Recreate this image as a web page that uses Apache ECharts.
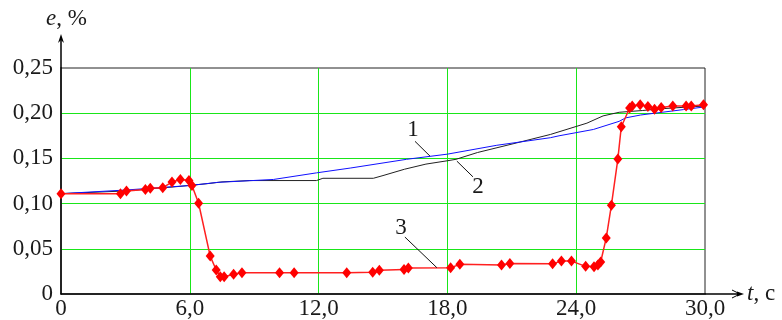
<!DOCTYPE html>
<html>
<head>
<meta charset="utf-8">
<script src="https://cdn.jsdelivr.net/npm/echarts@6/dist/echarts.min.js"></script>
<style>
  html, body { margin: 0; padding: 0; background: #fff; }
  #chart { width: 782px; height: 320px; }
</style>
</head>
<body>
<div id="chart"></div>
<script>
// Curve 1 (blue)
const tBlue = [0, 3, 6, 7.3, 9.9, 11.9, 13.5, 16.1, 18, 20.3, 22.8, 23.2, 24.8, 26.0, 26.3, 27, 28, 29, 30];
const eBlue = [0.111, 0.115, 0.120, 0.1235, 0.1267, 0.134, 0.1394, 0.149, 0.1547, 0.1645, 0.1729, 0.175, 0.182, 0.191, 0.1948, 0.198, 0.201, 0.204, 0.207];

// Curve 2 (black)
const tBlack = [0, 3, 5.5, 6.8, 7.5, 8.8, 11.9, 12.2, 14.55, 15.0, 16.0, 17.0, 18.0, 18.4, 19.4, 21.2, 22.8, 24.5, 25.25, 26.0, 27.1, 28, 30];
const eBlack = [0.111, 0.114, 0.119, 0.122, 0.124, 0.1255, 0.1255, 0.128, 0.128, 0.131, 0.138, 0.1437, 0.1474, 0.149, 0.1565, 0.167, 0.1765, 0.189, 0.197, 0.201, 0.203, 0.205, 0.208];

// Curve 3 (red, measured points)
const tRed = [0, 2.77, 3.05, 3.93, 4.16, 4.74, 5.17, 5.56, 5.96, 6.1, 6.41, 6.95, 7.23, 7.42, 7.6, 8.04, 8.43, 10.18, 10.86, 13.31, 14.52, 14.83, 15.98, 16.18, 18.15, 18.58, 20.52, 20.91, 22.9, 23.31, 23.78, 24.44, 24.83, 25.01, 25.14, 25.4, 25.64, 25.94, 26.1, 26.49, 26.61, 26.98, 27.34, 27.65, 27.96, 28.5, 29.12, 29.36, 29.93];
const eRed = [0.111, 0.111, 0.114, 0.1157, 0.117, 0.1176, 0.1238, 0.1267, 0.1256, 0.120, 0.1004, 0.0419, 0.0266, 0.019, 0.019, 0.0218, 0.0234, 0.0234, 0.0234, 0.0234, 0.024, 0.0262, 0.027, 0.0288, 0.0291, 0.0328, 0.032, 0.0338, 0.0335, 0.0364, 0.0364, 0.0306, 0.0302, 0.032, 0.0354, 0.062, 0.0983, 0.1492, 0.185, 0.2057, 0.208, 0.2093, 0.2074, 0.2045, 0.2063, 0.208, 0.208, 0.208, 0.2093];

// Axis ranges and tick steps
const xMin = 0, xMax = 30, xStep = 6;
const yMin = 0, yMax = 0.25, yStep = 0.05;

// Curve labels with leader lines (data units)
const curveNames = ['1', '2', '3'];
const namePoints = [[16.4, 0.182], [19.42, 0.1187], [15.84, 0.073]];
const leaderFrom = [[16.49, 0.1689], [18.44, 0.147], [16.02, 0.063]];
const leaderTo = [[17.19, 0.1525], [19.19, 0.1296], [17.51, 0.0291]];

const zip = (a, b) => a.map((v, i) => [v, b[i]]);
const FONT = "'Liberation Serif', 'DejaVu Serif', serif";
const FS = 23;
const TXT = '#1a1a1a';
const GREEN = '#19e619';

const chart = echarts.init(document.getElementById('chart'), null, { renderer: 'canvas' });

const option = {
  animation: false,
  backgroundColor: '#fff',
  textStyle: { fontFamily: FONT, fontSize: FS },
  grid: { left: 61, right: 77, top: 68, bottom: 23, show: true, borderColor: '#222', borderWidth: 1, backgroundColor: 'transparent' },
  xAxis: {
    type: 'value', min: xMin, max: xMax, interval: xStep,
    axisLine: { show: true, onZero: false, lineStyle: { color: '#000', width: 1.5 } },
    axisTick: { show: false },
    splitLine: { show: true, showMinLine: false, showMaxLine: false, lineStyle: { color: GREEN, width: 1 } },
    axisLabel: {
      margin: 3, fontFamily: FONT, fontSize: FS, color: TXT,
      formatter: v => v === 0 ? '0' : v.toFixed(1).replace('.', ',')
    }
  },
  yAxis: {
    type: 'value', min: yMin, max: yMax, interval: yStep,
    axisLine: { show: true, onZero: false, lineStyle: { color: '#000', width: 1.5 } },
    axisTick: { show: false },
    splitLine: { show: true, showMinLine: false, showMaxLine: false, lineStyle: { color: GREEN, width: 1 } },
    axisLabel: {
      margin: 8, fontFamily: FONT, fontSize: FS, color: TXT, padding: [3, 0, 0, 0],
      formatter: v => Math.abs(v) < 1e-9 ? '0' : v.toFixed(2).replace('.', ',')
    }
  },
  series: [
    {
      name: '2', type: 'line', data: zip(tBlack, eBlack), showSymbol: false,
      lineStyle: { color: '#222', width: 1 }, z: 3
    },
    {
      name: '1', type: 'line', data: zip(tBlue, eBlue), showSymbol: false,
      lineStyle: { color: '#1010ff', width: 1 }, z: 4
    },
    {
      name: '3', type: 'line', data: zip(tRed, eRed), symbol: 'diamond', symbolSize: [9, 11],
      itemStyle: { color: '#ff0000' }, lineStyle: { color: '#ff2020', width: 1.5 }, z: 5
    }
  ]
};
chart.setOption(option);

// Axis arrows, axis names and curve annotations placed from the axis scales
const px = p => chart.convertToPixel({ gridIndex: 0 }, p);
const origin = px([xMin, yMin]);
const corner = px([xMax, yMax]);
const yTip = 34, xTip = 744;

const italicRich = {
  i: { fontFamily: FONT, fontSize: FS, fontStyle: 'italic', fill: TXT },
  n: { fontFamily: FONT, fontSize: FS, fill: TXT }
};

const graphics = [
  { type: 'line', shape: { x1: origin[0], y1: corner[1], x2: origin[0], y2: yTip + 4 }, style: { stroke: '#000', lineWidth: 1.5 } },
  { type: 'polygon', shape: { points: [[origin[0], yTip], [origin[0] - 3, yTip + 9], [origin[0], yTip + 6], [origin[0] + 3, yTip + 9]] }, style: { fill: '#000' } },
  { type: 'line', shape: { x1: corner[0], y1: origin[1], x2: xTip - 4, y2: origin[1] }, style: { stroke: '#000', lineWidth: 1.5 } },
  { type: 'polyline', shape: { points: [[xTip - 12, origin[1] - 4], [xTip - 4, origin[1]], [xTip - 12, origin[1] + 4]] }, style: { stroke: '#000', lineWidth: 1, fill: null } },
  { type: 'polygon', shape: { points: [[xTip, origin[1]], [xTip - 7, origin[1] - 2.5], [xTip - 7, origin[1] + 2.5]] }, style: { fill: '#000' } },
  { type: 'text', x: origin[0] - 15, y: 7, style: { text: '{i|e}{n|, %}', rich: italicRich } },
  { type: 'text', x: xTip + 3, y: origin[1] - 12, style: { text: '{i|t}{n|, c}', rich: italicRich } }
];

curveNames.forEach((name, i) => {
  const a = px(leaderFrom[i]);
  const b = px(leaderTo[i]);
  const c = px(namePoints[i]);
  graphics.push({ type: 'line', shape: { x1: a[0], y1: a[1], x2: b[0], y2: b[1] }, style: { stroke: '#111', lineWidth: 1 }, z: 10 });
  graphics.push({ type: 'text', x: c[0], y: c[1], style: { text: name, fontFamily: FONT, fontSize: FS, fill: TXT, align: 'center', verticalAlign: 'middle' }, z: 10 });
});

chart.setOption({ graphic: graphics });
</script>
</body>
</html>
